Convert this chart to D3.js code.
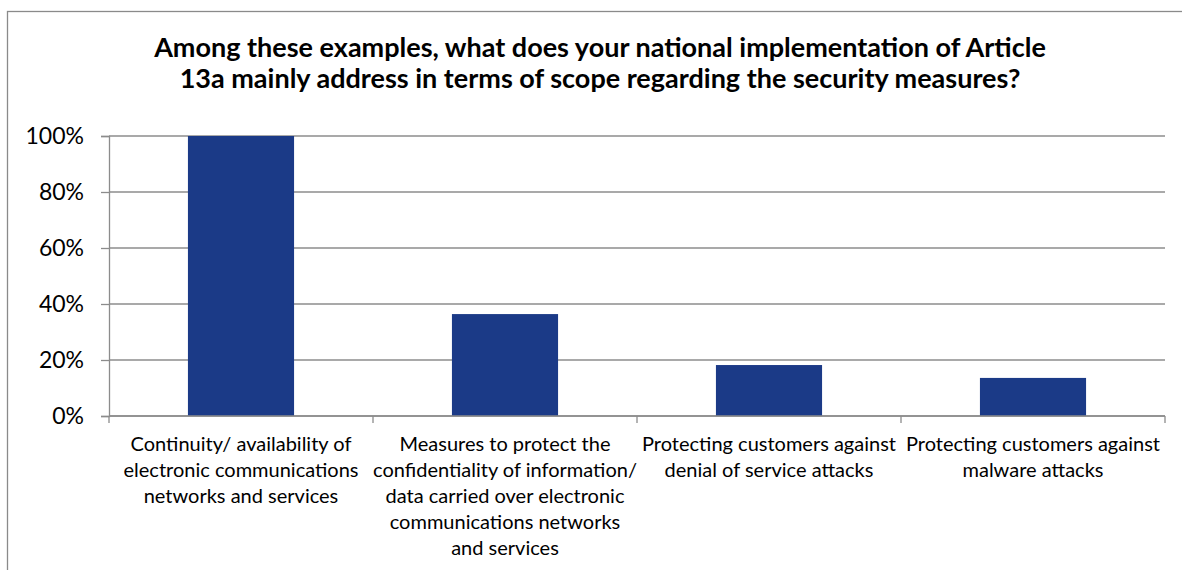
<!DOCTYPE html>
<html>
<head>
<meta charset="utf-8">
<script src="https://cdn.jsdelivr.net/npm/d3@7"></script>
<style>
  html, body { margin: 0; padding: 0; background: #fff; }
  svg { display: block; }
  text { font-family: Lato, "Liberation Sans", sans-serif; fill: #000; }
</style>
</head>
<body>
<svg id="chart" width="1182" height="570"></svg>
<script>
// Survey answers: share of respondents per scope item
const categories = [
  "Continuity/ availability of electronic communications networks and services",
  "Measures to protect the confidentiality of information/ data carried over electronic communications networks and services",
  "Protecting customers against denial of service attacks",
  "Protecting customers against malware attacks"
];
const categoryLines = [
  ["Continuity/ availability of", "electronic communications", "networks and services"],
  ["Measures to protect the", "confidentiality of information/", "data carried over electronic", "communications networks", "and services"],
  ["Protecting customers against", "denial of service attacks"],
  ["Protecting customers against", "malware attacks"]
];
const values = [1.0, 0.364, 0.182, 0.136];
const yTicks = [0, 0.2, 0.4, 0.6, 0.8, 1.0];
const titleLines = [
  "Among these examples, what does your national implementation of Article",
  "13a mainly address in terms of scope regarding the security measures?"
];

const svg = d3.select("#chart");
const plot = { left: 109, right: 1165, top: 136, bottom: 416 };

// chart frame
svg.append("rect")
  .attr("x", 7.5).attr("y", 11.5)
  .attr("width", 1200).attr("height", 600)
  .attr("fill", "#fff").attr("stroke", "#8a8a8a").attr("stroke-width", 1.3);

// title
const title = svg.append("text")
  .attr("text-anchor", "middle")
  .style("font-weight", "bold")
  .style("font-size", "27px");
titleLines.forEach((t, i) => {
  title.append("tspan").attr("x", 600).attr("y", 57 + i * 31).text(t);
});

const x = d3.scaleBand()
  .domain(categories)
  .range([plot.left, plot.right])
  .paddingInner(0.598)
  .paddingOuter(0.299);

const y = d3.scaleLinear()
  .domain([0, 1])
  .range([plot.bottom, plot.top]);

// gridlines
svg.append("g")
  .selectAll("line")
  .data(yTicks)
  .join("line")
  .attr("x1", plot.left).attr("x2", plot.right)
  .attr("y1", d => y(d)).attr("y2", d => y(d))
  .attr("stroke", "#8c8c8c").attr("stroke-width", 1.3);

// bars
svg.append("g")
  .selectAll("rect")
  .data(values)
  .join("rect")
  .attr("x", (d, i) => x(categories[i]))
  .attr("width", x.bandwidth())
  .attr("y", d => y(d))
  .attr("height", d => y(0) - y(d))
  .attr("fill", "#1b3a87");

// y axis
const yAxis = svg.append("g")
  .attr("transform", `translate(${plot.left},0)`)
  .call(d3.axisLeft(y).tickValues(yTicks).tickFormat(d3.format(".0%")).tickSize(8).tickPadding(17));
yAxis.select(".domain").attr("stroke", "#8c8c8c").attr("stroke-width", 1.3);
yAxis.selectAll(".tick line").attr("stroke", "#8c8c8c").attr("stroke-width", 1.3);
yAxis.selectAll(".tick text")
  .style("font-family", "Lato, 'Liberation Sans', sans-serif")
  .style("font-size", "23px").attr("fill", "#000");

// x axis baseline and category boundary ticks
const step = x.step();
const bounds = d3.range(categories.length + 1).map(i => plot.left + i * step);
svg.append("line")
  .attr("x1", plot.left).attr("x2", plot.right)
  .attr("y1", y(0)).attr("y2", y(0))
  .attr("stroke", "#8c8c8c").attr("stroke-width", 1.3);
svg.append("g")
  .selectAll("line")
  .data(bounds)
  .join("line")
  .attr("x1", d => d).attr("x2", d => d)
  .attr("y1", y(0)).attr("y2", y(0) + 7)
  .attr("stroke", "#8c8c8c").attr("stroke-width", 1.3);

// category labels
const labels = svg.append("g")
  .selectAll("text")
  .data(categories)
  .join("text")
  .attr("text-anchor", "middle")
  .style("font-size", "20px");
labels.each(function (c, i) {
  const cx = x(c) + x.bandwidth() / 2;
  categoryLines[i].forEach((line, j) => {
    d3.select(this).append("tspan")
      .attr("x", cx).attr("y", 451 + j * 26).text(line);
  });
});
</script>
</body>
</html>
